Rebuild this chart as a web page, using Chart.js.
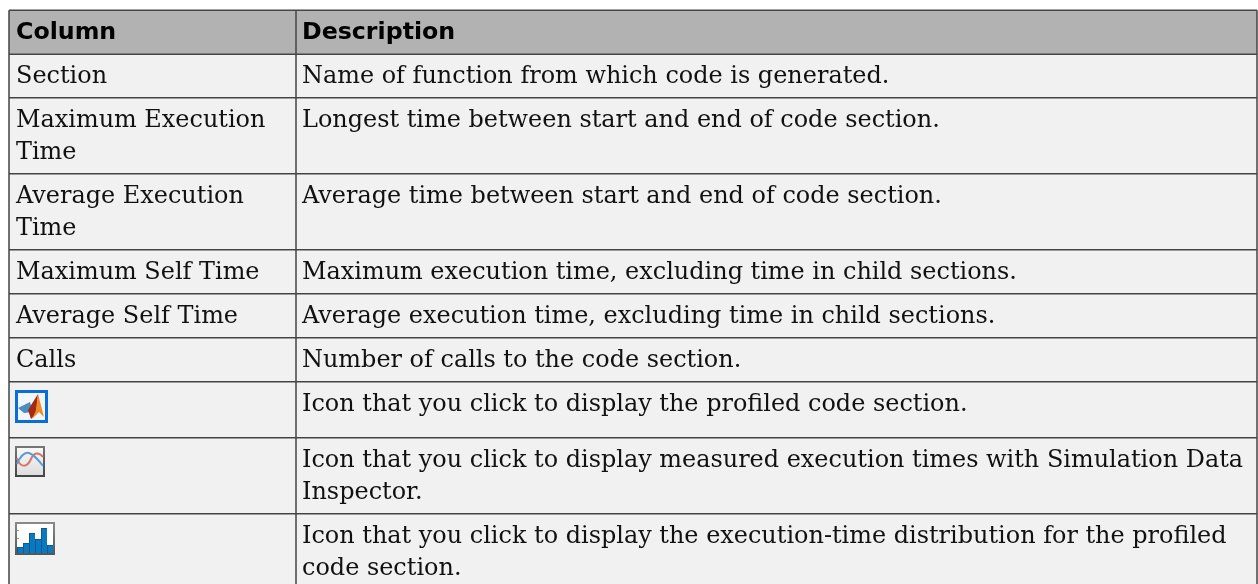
<!DOCTYPE html>
<html>
<head>
<meta charset="utf-8">
<style>
  html, body { margin: 0; padding: 0; background: #fff; }
  #wrap { width: 1258px; height: 584px; }
</style>
<script src="https://cdn.jsdelivr.net/npm/chart.js@4"></script>
</head>
<body>
<div id="wrap"><canvas id="table-chart" width="1258" height="584"></canvas></div>
<script>
// table contents
const headers = ["Column", "Description"];
const col1 = [
  ["Section"],
  ["Maximum Execution", "Time"],
  ["Average Execution", "Time"],
  ["Maximum Self Time"],
  ["Average Self Time"],
  ["Calls"],
  [],
  [],
  []
];
const col2 = [
  ["Name of function from which code is generated."],
  ["Longest time between start and end of code section."],
  ["Average time between start and end of code section."],
  ["Maximum execution time, excluding time in child sections."],
  ["Average execution time, excluding time in child sections."],
  ["Number of calls to the code section."],
  ["Icon that you click to display the profiled code section."],
  ["Icon that you click to display measured execution times with Simulation Data", "Inspector."],
  ["Icon that you click to display the execution-time distribution for the profiled", "code section."]
];
const rowEdges = [10.3, 54.2, 97.8, 173.8, 249.8, 293.8, 337.8, 381.8, 437.8, 513.8, 590];
const colEdges = [9, 296, 1257];
const histBars = [6, 10, 20, 14, 25, 8];

const gridLines = [];
rowEdges.slice(0, -1).forEach(y => gridLines.push({ data: [{ x: colEdges[0], y }, { x: colEdges[2], y }] }));
colEdges.forEach(x => gridLines.push({ data: [{ x, y: rowEdges[0] }, { x, y: rowEdges[rowEdges.length - 1] }] }));

const tablePlugin = {
  id: "tablePlugin",
  beforeDatasetsDraw(chart) {
    const { ctx, scales: { x, y } } = chart;
    const left = x.getPixelForValue(colEdges[0]);
    const right = x.getPixelForValue(colEdges[2]);
    ctx.save();
    ctx.fillStyle = "#b2b2b2";
    ctx.fillRect(left, y.getPixelForValue(rowEdges[0]), right - left, y.getPixelForValue(rowEdges[1]) - y.getPixelForValue(rowEdges[0]));
    ctx.fillStyle = "#f1f1f1";
    ctx.fillRect(left, y.getPixelForValue(rowEdges[1]), right - left, y.getPixelForValue(rowEdges[10]) - y.getPixelForValue(rowEdges[1]));
    ctx.restore();
  },
  afterDatasetsDraw(chart) {
    const { ctx, scales: { x, y } } = chart;
    ctx.save();
    ctx.textBaseline = "alphabetic";
    ctx.fillStyle = "#000";
    ctx.font = "bold 23.7px 'DejaVu Sans'";
    ctx.fillText(headers[0], x.getPixelForValue(colEdges[0] + 7), y.getPixelForValue(39));
    ctx.fillText(headers[1], x.getPixelForValue(colEdges[1] + 6), y.getPixelForValue(39));
    ctx.font = "23.95px 'DejaVu Serif'";
    ctx.fillStyle = "#111";
    col1.forEach((lines, r) => lines.forEach((t, i) => {
      ctx.fillText(t, x.getPixelForValue(colEdges[0] + 7), y.getPixelForValue(Math.round(rowEdges[r + 1]) + 29 + i * 32));
    }));
    col2.forEach((lines, r) => lines.forEach((t, i) => {
      ctx.fillText(t, x.getPixelForValue(colEdges[1] + 6), y.getPixelForValue(Math.round(rowEdges[r + 1]) + 29 + i * 32));
    }));
    drawMatlabIcon(ctx, 15, 390);
    drawPlotIcon(ctx, 15, 446);
    drawHistIcon(ctx, 15, 522);
    ctx.restore();
  }
};

function poly(ctx, color, x0, y0, pts) {
  ctx.fillStyle = color;
  ctx.beginPath();
  pts.forEach((p, i) => i ? ctx.lineTo(x0 + p[0], y0 + p[1]) : ctx.moveTo(x0 + p[0], y0 + p[1]));
  ctx.closePath();
  ctx.fill();
}

function drawMatlabIcon(ctx, x0, y0) {
  ctx.fillStyle = "#0a6ed8";
  ctx.fillRect(x0, y0, 33, 33);
  ctx.fillStyle = "#f2f6fb";
  ctx.fillRect(x0 + 3, y0 + 3, 27, 27);
  ctx.save();
  ctx.filter = "blur(0.7px)";
  poly(ctx, "#4a8fc4", x0, y0, [[3, 18], [15, 12], [18, 22], [9, 23]]);
  poly(ctx, "#a32a14", x0, y0, [[13, 20], [23, 4], [21, 24], [16, 29]]);
  poly(ctx, "#f08a24", x0, y0, [[23, 4], [29, 27], [24, 22], [17, 29], [21, 20]]);
  ctx.restore();
}

function drawPlotIcon(ctx, x0, y0) {
  const grad = ctx.createLinearGradient(0, y0, 0, y0 + 31);
  grad.addColorStop(0, "#777");
  grad.addColorStop(1, "#444");
  ctx.fillStyle = grad;
  ctx.fillRect(x0, y0, 30, 31);
  const inner = ctx.createLinearGradient(0, y0, 0, y0 + 31);
  inner.addColorStop(0, "#fafafa");
  inner.addColorStop(1, "#dcdcdc");
  ctx.fillStyle = inner;
  ctx.fillRect(x0 + 2, y0 + 2, 26, 27);
  ctx.save();
  ctx.filter = "blur(0.5px)";
  ctx.lineWidth = 2;
  ctx.strokeStyle = "#d9766c";
  ctx.beginPath();
  ctx.moveTo(x0 + 2, y0 + 12);
  ctx.bezierCurveTo(x0 + 5, y0 + 22, x0 + 12, y0 + 22, x0 + 16, y0 + 13);
  ctx.bezierCurveTo(x0 + 19, y0 + 6, x0 + 24, y0 + 6, x0 + 28, y0 + 11);
  ctx.stroke();
  ctx.strokeStyle = "#5a9bd6";
  ctx.beginPath();
  ctx.moveTo(x0 + 2, y0 + 18);
  ctx.bezierCurveTo(x0 + 6, y0 + 9, x0 + 10, y0 + 6, x0 + 14, y0 + 7);
  ctx.bezierCurveTo(x0 + 20, y0 + 9, x0 + 24, y0 + 15, x0 + 28, y0 + 20);
  ctx.stroke();
  ctx.restore();
}

function drawHistIcon(ctx, x0, y0) {
  const grad = ctx.createLinearGradient(0, y0, 0, y0 + 33);
  grad.addColorStop(0, "#8a8a8a");
  grad.addColorStop(1, "#555");
  ctx.fillStyle = grad;
  ctx.fillRect(x0, y0, 40, 33);
  ctx.fillStyle = "#fff";
  ctx.fillRect(x0 + 2, y0 + 2, 36, 29);
  ctx.fillStyle = "#999";
  ctx.fillRect(x0 + 2, y0 + 8, 2, 1);
  ctx.fillRect(x0 + 2, y0 + 16, 2, 1);
  histBars.forEach((h, i) => {
    ctx.fillStyle = "#0b78c2";
    ctx.fillRect(x0 + 2 + i * 6, y0 + 31 - h, 6, h);
    ctx.fillStyle = "#0b5a96";
    ctx.fillRect(x0 + 2 + i * 6, y0 + 31 - h, 6, 1);
    ctx.fillRect(x0 + 2 + i * 6, y0 + 31 - h, 1, h);
  });
}

new Chart(document.getElementById("table-chart"), {
  type: "scatter",
  data: {
    datasets: gridLines.map(g => ({
      data: g.data,
      showLine: true,
      pointRadius: 0,
      borderColor: "#444",
      borderWidth: 1.5
    }))
  },
  options: {
    responsive: false,
    animation: false,
    layout: { padding: 0 },
    plugins: { legend: { display: false }, tooltip: { enabled: false } },
    scales: {
      x: { type: "linear", min: 0, max: 1258, display: false },
      y: { type: "linear", min: 0, max: 584, reverse: true, display: false }
    }
  },
  plugins: [tablePlugin]
});
</script>
</body>
</html>
